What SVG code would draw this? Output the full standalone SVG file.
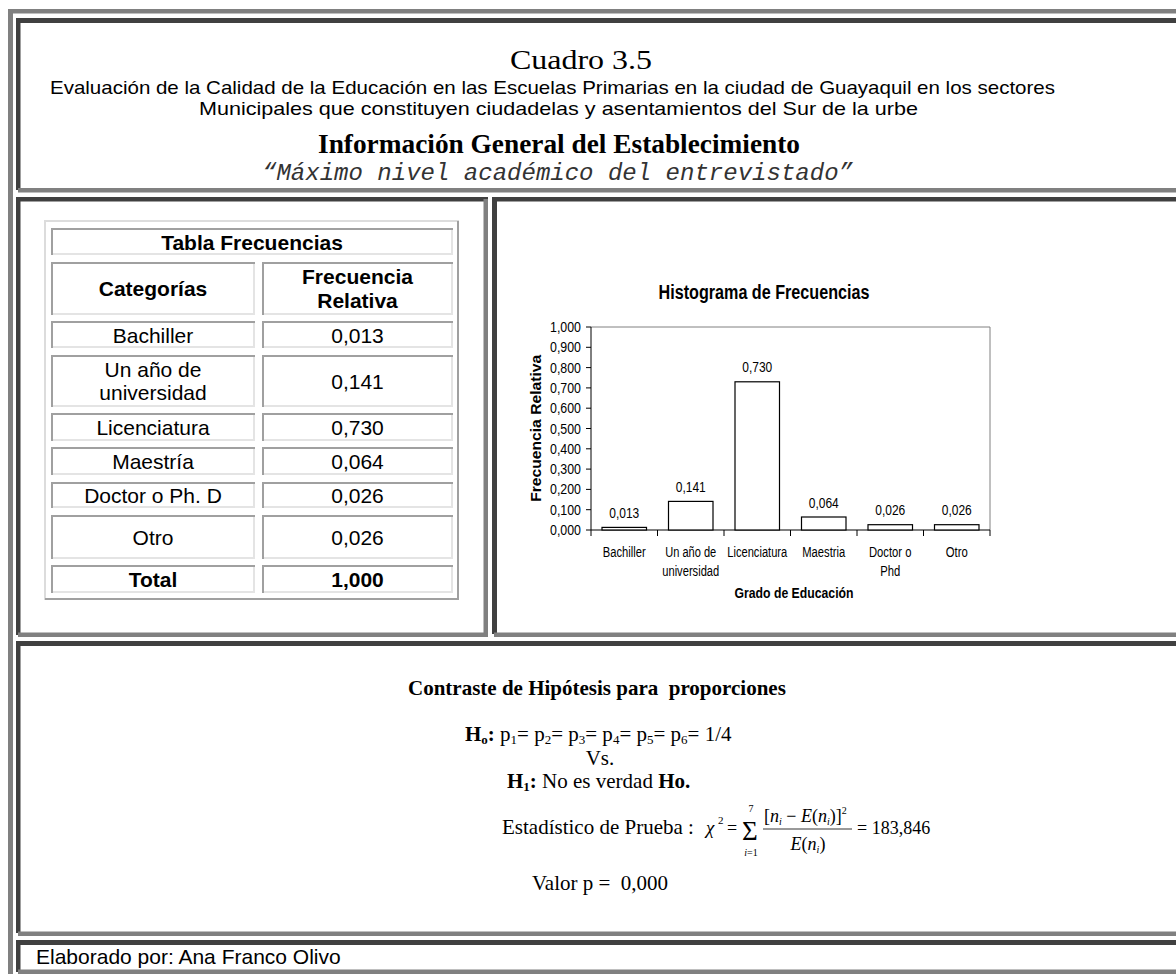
<svg xmlns="http://www.w3.org/2000/svg" width="1176" height="974" viewBox="0 0 1176 974">
<style>
.g{fill:#808080}
.d{fill:#404040}
.tl{fill:none;stroke:#a0a0a0;stroke-width:2}
.br{fill:none;stroke:#e4e4e4;stroke-width:2}
.ar{font-family:"Liberation Sans",Arial,sans-serif;fill:#000}
.tm{font-family:"Liberation Serif","Times New Roman",serif;fill:#000}
.mo{font-family:"Liberation Mono","Courier New",monospace;fill:#333}
.cell{font-size:21px;text-anchor:middle}
.b{font-weight:bold}
.it{font-style:italic}
.ch{font-size:14px;text-anchor:middle}
.yl{font-size:14px;text-anchor:end}
.bar{fill:#fff;stroke:#000;stroke-width:1.2}
.ax{stroke:#000;stroke-width:1;fill:none}
.fr{stroke:#808080;stroke-width:1;fill:none}
</style>
<rect width="1176" height="974" fill="#fff"/>
<g id="frame">
<rect class="g" x="8" y="9" width="1168" height="4.5"/>
<rect class="g" x="8" y="9" width="5" height="965"/>
<rect class="d" x="16" y="18" width="1160" height="5"/>
<rect class="d" x="16" y="18" width="4.5" height="172"/>
<rect class="g" x="18" y="188" width="1158" height="4.5"/>
<rect class="d" x="16" y="197" width="472" height="4.5"/>
<rect class="d" x="16" y="197" width="4.5" height="438"/>
<rect class="g" x="483.5" y="199" width="4.5" height="438"/>
<rect class="g" x="18" y="632.5" width="470" height="4.5"/>
<rect class="d" x="492" y="197" width="684" height="4.5"/>
<rect class="d" x="492" y="197" width="5" height="437"/>
<rect class="g" x="494" y="632.5" width="682" height="4.5"/>
<rect class="d" x="16" y="641" width="1160" height="5"/>
<rect class="d" x="16" y="641" width="4.5" height="292"/>
<rect class="g" x="18" y="931.5" width="1158" height="4.5"/>
<rect class="d" x="16" y="940" width="1160" height="5"/>
<rect class="d" x="16" y="940" width="4.5" height="32"/>
<rect class="g" x="18" y="969.5" width="1158" height="4.5"/>
</g>
<g id="header">
<text class="tm" x="510" y="69" font-size="28" fill="#222" textLength="142" lengthAdjust="spacingAndGlyphs">Cuadro 3.5</text>
<text class="ar" x="50" y="94" font-size="18.5" textLength="1005" lengthAdjust="spacingAndGlyphs">Evaluación de la Calidad de la Educación en las Escuelas Primarias en la ciudad de Guayaquil en los sectores</text>
<text class="ar" x="199" y="115" font-size="18.5" textLength="719" lengthAdjust="spacingAndGlyphs">Municipales que constituyen ciudadelas y asentamientos del Sur de la urbe</text>
<text class="tm b" x="318" y="153" font-size="27" textLength="482" lengthAdjust="spacingAndGlyphs">Información General del Establecimiento</text>
<text class="mo it" x="262" y="180" font-size="24" textLength="591" lengthAdjust="spacingAndGlyphs">“Máximo nivel académico del entrevistado”</text>
</g>
<g id="table">
<path d="M45 600 V221 H459" fill="none" stroke="#dcdcdc" stroke-width="2"/>
<path d="M45 599 H458 V221" fill="none" stroke="#a0a0a0" stroke-width="2"/>
<path class="tl" d="M52 255 V229 H453 M52 315 V263 H255 M263 315 V263 H453 M52 348 V322 H255 M263 348 V322 H453 M52 407 V356 H255 M263 407 V356 H453 M52 441 V414 H255 M263 441 V414 H453 M52 475 V448 H255 M263 475 V448 H453 M52 508 V483 H255 M263 508 V483 H453 M52 559 V516 H255 M263 559 V516 H453 M52 593 V566 H255 M263 593 V566 H453"/>
<path class="br" d="M53 254 H452 V230 M53 314 H254 V264 M264 314 H452 V264 M53 347 H254 V323 M264 347 H452 V323 M53 406 H254 V357 M264 406 H452 V357 M53 440 H254 V415 M264 440 H452 V415 M53 474 H254 V449 M264 474 H452 V449 M53 507 H254 V484 M264 507 H452 V484 M53 558 H254 V517 M264 558 H452 V517 M53 592 H254 V567 M264 592 H452 V567"/>
<text class="ar cell b" x="252" y="250">Tabla Frecuencias</text>
<text class="ar cell b" x="153" y="296">Categorías</text>
<text class="ar cell b" x="357.5" y="284">Frecuencia</text>
<text class="ar cell b" x="357.5" y="308">Relativa</text>
<text class="ar cell" x="153" y="342.5">Bachiller</text>
<text class="ar cell" x="357.5" y="342.5">0,013</text>
<text class="ar cell" x="153" y="377">Un año de</text>
<text class="ar cell" x="153" y="400">universidad</text>
<text class="ar cell" x="357.5" y="388.5">0,141</text>
<text class="ar cell" x="153" y="434.5">Licenciatura</text>
<text class="ar cell" x="357.5" y="434.5">0,730</text>
<text class="ar cell" x="153" y="468.5">Maestría</text>
<text class="ar cell" x="357.5" y="468.5">0,064</text>
<text class="ar cell" x="153" y="502.5">Doctor o Ph. D</text>
<text class="ar cell" x="357.5" y="502.5">0,026</text>
<text class="ar cell" x="153" y="544.5">Otro</text>
<text class="ar cell" x="357.5" y="544.5">0,026</text>
<text class="ar cell b" x="153" y="586.5">Total</text>
<text class="ar cell b" x="357.5" y="586.5">1,000</text>
</g>
<g id="chart">
<text class="ar b" x="764" y="299" font-size="19.5" text-anchor="middle" textLength="211" lengthAdjust="spacingAndGlyphs">Histograma de Frecuencias</text>
<path class="fr" d="M591 327 H990 V530"/>
<path class="ax" d="M591 327 V530 H990"/>
<path class="ax" d="M586 530 H591 M586 509.7 H591 M586 489.4 H591 M586 469.1 H591 M586 448.8 H591 M586 428.5 H591 M586 408.2 H591 M586 387.9 H591 M586 367.6 H591 M586 347.3 H591 M586 327 H591 M591 530 V536 M657.5 530 V536 M724 530 V536 M790.5 530 V536 M857 530 V536 M923.5 530 V536 M990 530 V536"/>
<g class="ar yl">
<text x="581" y="535" textLength="31" lengthAdjust="spacingAndGlyphs">0,000</text>
<text x="581" y="514.7" textLength="31" lengthAdjust="spacingAndGlyphs">0,100</text>
<text x="581" y="494.4" textLength="31" lengthAdjust="spacingAndGlyphs">0,200</text>
<text x="581" y="474.1" textLength="31" lengthAdjust="spacingAndGlyphs">0,300</text>
<text x="581" y="453.8" textLength="31" lengthAdjust="spacingAndGlyphs">0,400</text>
<text x="581" y="433.5" textLength="31" lengthAdjust="spacingAndGlyphs">0,500</text>
<text x="581" y="413.2" textLength="31" lengthAdjust="spacingAndGlyphs">0,600</text>
<text x="581" y="392.9" textLength="31" lengthAdjust="spacingAndGlyphs">0,700</text>
<text x="581" y="372.6" textLength="31" lengthAdjust="spacingAndGlyphs">0,800</text>
<text x="581" y="352.3" textLength="31" lengthAdjust="spacingAndGlyphs">0,900</text>
<text x="581" y="332" textLength="31" lengthAdjust="spacingAndGlyphs">1,000</text>
</g>
<rect class="bar" x="602" y="527.4" width="44.5" height="2.6"/>
<rect class="bar" x="668.5" y="501.4" width="44.5" height="28.6"/>
<rect class="bar" x="735" y="381.8" width="44.5" height="148.2"/>
<rect class="bar" x="801.5" y="517" width="44.5" height="13"/>
<rect class="bar" x="868" y="524.7" width="44.5" height="5.3"/>
<rect class="bar" x="934.5" y="524.7" width="44.5" height="5.3"/>
<g class="ar ch">
<text x="624.25" y="518" textLength="30" lengthAdjust="spacingAndGlyphs">0,013</text>
<text x="690.75" y="492" textLength="30" lengthAdjust="spacingAndGlyphs">0,141</text>
<text x="757.25" y="372" textLength="30" lengthAdjust="spacingAndGlyphs">0,730</text>
<text x="823.75" y="507.5" textLength="30" lengthAdjust="spacingAndGlyphs">0,064</text>
<text x="890.25" y="515.2" textLength="30" lengthAdjust="spacingAndGlyphs">0,026</text>
<text x="956.75" y="515.2" textLength="30" lengthAdjust="spacingAndGlyphs">0,026</text>
<text x="624.25" y="557" textLength="43" lengthAdjust="spacingAndGlyphs">Bachiller</text>
<text x="690.75" y="557" textLength="51" lengthAdjust="spacingAndGlyphs">Un año de</text>
<text x="690.75" y="576" textLength="57" lengthAdjust="spacingAndGlyphs">universidad</text>
<text x="757.25" y="557" textLength="60" lengthAdjust="spacingAndGlyphs">Licenciatura</text>
<text x="823.75" y="557" textLength="43" lengthAdjust="spacingAndGlyphs">Maestria</text>
<text x="890.25" y="557" textLength="42.5" lengthAdjust="spacingAndGlyphs">Doctor o</text>
<text x="890.25" y="576" textLength="20" lengthAdjust="spacingAndGlyphs">Phd</text>
<text x="956.75" y="557" textLength="22" lengthAdjust="spacingAndGlyphs">Otro</text>
</g>
<text class="ar b" x="794" y="598" font-size="15" text-anchor="middle" textLength="119" lengthAdjust="spacingAndGlyphs">Grado de Educación</text>
<text class="ar b" transform="translate(541 428.3) rotate(-90)" x="0" y="0" font-size="15.5" text-anchor="middle" textLength="147" lengthAdjust="spacingAndGlyphs">Frecuencia Relativa</text>
</g>
<g id="hypothesis" class="tm" font-size="21">
<text class="tm b" x="408" y="695" xml:space="preserve">Contraste de Hipótesis para  proporciones</text>
<text class="tm" x="465" y="741"><tspan font-weight="bold">H</tspan><tspan font-weight="bold" font-size="13" dy="3">o</tspan><tspan font-weight="bold" dy="-3">:</tspan> p<tspan font-size="13" dy="3">1</tspan><tspan dy="-3">= p</tspan><tspan font-size="13" dy="3">2</tspan><tspan dy="-3">= p</tspan><tspan font-size="13" dy="3">3</tspan><tspan dy="-3">= p</tspan><tspan font-size="13" dy="3">4</tspan><tspan dy="-3">= p</tspan><tspan font-size="13" dy="3">5</tspan><tspan dy="-3">= p</tspan><tspan font-size="13" dy="3">6</tspan><tspan dy="-3">= 1/4</tspan></text>
<text class="tm" x="600" y="765" text-anchor="middle">Vs.</text>
<text class="tm" x="507" y="788"><tspan font-weight="bold">H</tspan><tspan font-weight="bold" font-size="13" dy="3">1</tspan><tspan font-weight="bold" dy="-3">:</tspan> No es verdad <tspan font-weight="bold">Ho.</tspan></text>
<text class="tm" x="502" y="834">Estadístico de Prueba :</text>
<text class="tm it" x="706" y="834" font-size="19">χ</text>
<text class="tm" x="718" y="824" font-size="11">2</text>
<text class="tm" x="727" y="834" font-size="18">=</text>
<text class="tm" x="742" y="840" font-size="27">Σ</text>
<text class="tm" x="751" y="812" font-size="10" text-anchor="middle">7</text>
<text class="tm" x="751" y="856" font-size="10" text-anchor="middle"><tspan font-style="italic">i</tspan>=1</text>
<text class="tm" x="764" y="822" font-size="18">[<tspan font-style="italic">n</tspan><tspan font-style="italic" font-size="10" dy="3">i</tspan><tspan dy="-3"> − </tspan><tspan font-style="italic">E</tspan>(<tspan font-style="italic">n</tspan><tspan font-style="italic" font-size="10" dy="3">i</tspan><tspan dy="-3">)]</tspan><tspan font-size="10" dy="-8">2</tspan></text>
<path d="M763 829 H852" stroke="#000" stroke-width="0.8"/>
<text class="tm" x="808" y="850" font-size="18" text-anchor="middle"><tspan font-style="italic">E</tspan>(<tspan font-style="italic">n</tspan><tspan font-style="italic" font-size="10" dy="3">i</tspan><tspan dy="-3">)</tspan></text>
<text class="tm" x="857" y="834" font-size="18">= 183,846</text>
<text class="tm" x="532" y="890" xml:space="preserve">Valor p =  0,000</text>
</g>
<g id="footer">
<text class="ar" x="36" y="964" font-size="21">Elaborado por: Ana Franco Olivo</text>
</g>
</svg>
